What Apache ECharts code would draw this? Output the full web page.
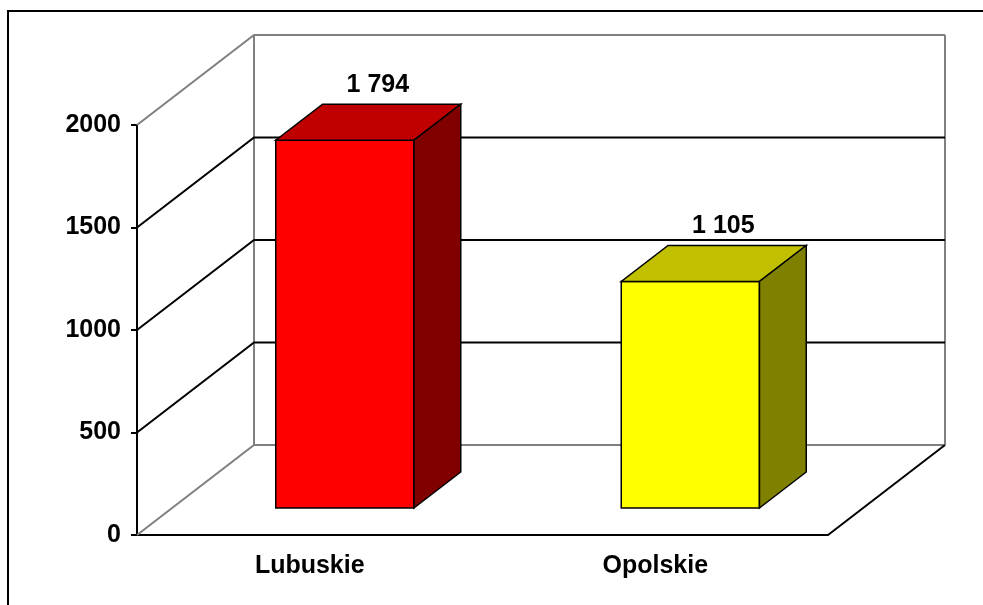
<!DOCTYPE html>
<html>
<head>
<meta charset="utf-8">
<style>
    html, body { margin: 0; padding: 0; background: #fff; }
    #chart { width: 983px; height: 605px; }
</style>
<script src="https://cdn.jsdelivr.net/npm/echarts@6/dist/echarts.min.js"></script>
</head>
<body>
<div id="chart"></div>
<script>
// dane
var regions = ['Lubuskie', 'Opolskie'];
var values = [1794, 1105];
var yTicks = [0, 500, 1000, 1500, 2000];

// kolory słupków: przód, góra, bok
var barPalette = [
    ['#ff0000', '#c00000', '#800000'],
    ['#ffff00', '#c0c000', '#808000']
];

// przesunięcie "głębi" wykresu 3D w pikselach
var DX = 117, DY = 90;
var DEPTH_FRONT = 0.3, DEPTH_BACK = 0.7;
var BAR_RATIO = 0.4;
var FONT = 'Liberation Sans, Arial, sans-serif';
var FONT_SIZE = 25;

function fmt(v) {
    return String(v).replace(/\B(?=(\d{3})+(?!\d))/g, ' ');
}

// ściany i linie siatki (tył + skosy)
function renderWall(params, api) {
    var cs = params.coordSys;
    var tick = api.value(1);
    var y = api.coord([0, tick])[1];
    var xl = cs.x, xr = cs.x + cs.width;
    var edge = (tick === yTicks[0] || tick === yTicks[yTicks.length - 1]);
    var color = edge ? '#808080' : '#000';
    var children = [
        {type: 'polyline', shape: {points: [[xl, y], [xl + DX, y - DY], [xr + DX, y - DY]]},
         style: {stroke: color, lineWidth: 2, fill: null}}
    ];
    if (params.dataIndex === 0) {
        var yTop = cs.y;
        children.push(
            {type: 'line', shape: {x1: xl + DX, y1: y - DY, x2: xl + DX, y2: yTop - DY}, style: {stroke: '#808080', lineWidth: 2}},
            {type: 'line', shape: {x1: xr + DX, y1: y - DY, x2: xr + DX, y2: yTop - DY}, style: {stroke: '#808080', lineWidth: 2}},
            {type: 'line', shape: {x1: xr, y1: y, x2: xr + DX, y2: y - DY}, style: {stroke: '#000', lineWidth: 2}}
        );
    }
    return {type: 'group', children: children};
}

function renderBar(params, api) {
    var i = api.value(0), v = api.value(1);
    var base = api.coord([i, 0]);
    var top = api.coord([i, v]);
    var bw = api.size([1, 0])[0] * BAR_RATIO;
    var fx = DX * DEPTH_FRONT, fy = DY * DEPTH_FRONT;
    var bx = DX * (DEPTH_BACK - DEPTH_FRONT), by = DY * (DEPTH_BACK - DEPTH_FRONT);
    var x0 = base[0] - bw / 2 + fx, x1 = x0 + bw;
    var y0 = base[1] - fy, y1 = top[1] - fy;
    var c = barPalette[i];
    var line = {stroke: '#000', lineWidth: 1.5};
    return {
        type: 'group',
        children: [
            {type: 'polygon', shape: {points: [[x0, y0], [x1, y0], [x1, y1], [x0, y1]]},
             style: Object.assign({fill: c[0]}, line)},
            {type: 'polygon', shape: {points: [[x0, y1], [x1, y1], [x1 + bx, y1 - by], [x0 + bx, y1 - by]]},
             style: Object.assign({fill: c[1]}, line)},
            {type: 'polygon', shape: {points: [[x1, y0], [x1 + bx, y0 - by], [x1 + bx, y1 - by], [x1, y1]]},
             style: Object.assign({fill: c[2]}, line)},
            {type: 'text', x: base[0] + fx + 33, y: y1 - by - 19,
             style: {text: fmt(v), align: 'center', verticalAlign: 'middle',
                     fontSize: FONT_SIZE, fontWeight: 'bold', fontFamily: FONT, fill: '#000'}}
        ]
    };
}

var chart = echarts.init(document.getElementById('chart'));
chart.setOption({
    backgroundColor: '#fff',
    animation: false,
    graphic: [{
        type: 'rect',
        shape: {x: 8, y: 11, width: 1000, height: 700},
        style: {fill: null, stroke: '#000', lineWidth: 2},
        silent: true
    }],
    grid: {left: 137, right: 155, top: 125, bottom: 70},
    xAxis: {
        type: 'category',
        data: regions,
        axisLine: {lineStyle: {color: '#000', width: 2}},
        axisTick: {length: 6, lineStyle: {color: '#000', width: 2}},
        axisLabel: {color: '#000', fontSize: FONT_SIZE, fontWeight: 'bold', fontFamily: FONT, margin: 19},
        splitLine: {show: false}
    },
    yAxis: {
        type: 'value',
        min: 0,
        max: 2000,
        interval: 500,
        axisLine: {show: true, lineStyle: {color: '#000', width: 2}},
        axisTick: {show: true, length: 6, lineStyle: {color: '#000', width: 2}},
        axisLabel: {color: '#000', fontSize: FONT_SIZE, fontWeight: 'bold', fontFamily: FONT, margin: 16,
                    formatter: function (v) { return String(v); }},
        splitLine: {show: false}
    },
    series: [
        {
            type: 'custom',
            renderItem: renderWall,
            data: yTicks.map(function (t) { return [0, t]; }),
            silent: true,
            z: 1
        },
        {
            type: 'custom',
            renderItem: renderBar,
            data: values.map(function (v, i) { return [i, v]; }),
            z: 3
        }
    ]
});
window.addEventListener('resize', function () {
    chart.resize();
});
</script>
</body>
</html>
